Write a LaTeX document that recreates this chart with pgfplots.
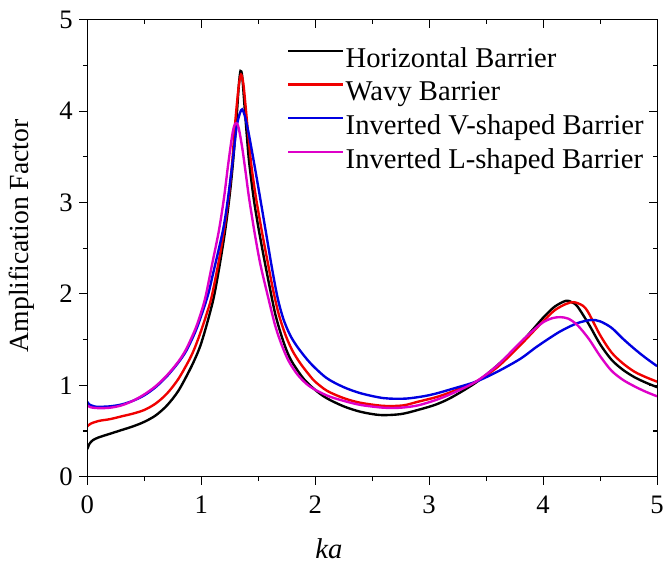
\documentclass[border=0pt]{standalone}
\usepackage{pgfplots}
\pgfplotsset{compat=1.18}
\usepackage{fontspec}
\setmainfont{Liberation Serif}
\definecolor{mag}{RGB}{222,0,200}
\definecolor{blu}{RGB}{0,0,225}
\definecolor{rd}{RGB}{240,0,0}

\pgfplotstableread{
x y
0 0.30
0.02 0.36
0.05 0.40
0.1 0.43
0.2 0.47
0.3 0.51
0.4 0.55
0.5 0.60
0.6 0.67
0.7 0.78
0.8 0.94
0.9 1.17
0.96 1.33
1.0 1.46
1.05 1.67
1.11 1.96
1.16 2.30
1.21 2.69
1.25 3.08
1.28 3.45
1.31 3.92
1.33 4.28
1.345 4.44
1.36 4.38
1.38 4.06
1.40 3.74
1.42 3.45
1.46 3.05
1.50 2.74
1.55 2.40
1.60 2.08
1.65 1.78
1.70 1.56
1.75 1.38
1.8 1.25
1.9 1.07
2.0 0.95
2.1 0.86
2.25 0.77
2.4 0.71
2.57 0.675
2.75 0.685
2.9 0.73
3.06 0.79
3.2 0.87
3.41 1.03
3.6 1.22
3.8 1.46
3.93 1.64
4.0 1.74
4.1 1.86
4.2 1.925
4.25 1.91
4.3 1.865
4.4 1.67
4.5 1.45
4.6 1.28
4.7 1.17
4.8 1.09
4.9 1.03
5.0 0.98
}\horiz

\pgfplotstableread{
x y
0 0.55
0.03 0.58
0.1 0.61
0.2 0.63
0.3 0.66
0.4 0.69
0.5 0.73
0.6 0.80
0.7 0.91
0.8 1.07
0.9 1.29
0.95 1.43
1.0 1.60
1.05 1.79
1.09 1.96
1.15 2.33
1.20 2.69
1.24 3.05
1.27 3.41
1.30 3.90
1.33 4.28
1.35 4.40
1.37 4.30
1.39 4.05
1.41 3.78
1.44 3.41
1.48 3.06
1.53 2.70
1.58 2.37
1.63 2.05
1.68 1.78
1.74 1.55
1.80 1.38
1.87 1.24
1.95 1.11
2.0 1.04
2.104 0.94
2.25 0.86
2.394 0.81
2.6 0.775
2.77 0.78
2.9 0.82
3.06 0.87
3.2 0.93
3.41 1.04
3.6 1.20
3.8 1.44
3.93 1.61
4.0 1.70
4.1 1.82
4.2 1.89
4.27 1.91
4.35 1.87
4.4 1.79
4.5 1.55
4.6 1.36
4.7 1.24
4.8 1.15
4.9 1.09
5.0 1.04
}\wavy

\pgfplotstableread{
x y
0 0.82
0.02 0.79
0.06 0.77
0.1 0.765
0.2 0.77
0.3 0.79
0.4 0.83
0.5 0.89
0.6 0.98
0.7 1.10
0.8 1.25
0.87 1.38
0.95 1.59
1.0 1.76
1.06 1.99
1.1 2.20
1.19 2.69
1.23 3.00
1.272 3.41
1.31 3.82
1.34 3.98
1.36 4.02
1.38 3.96
1.41 3.80
1.44 3.60
1.48 3.32
1.52 3.03
1.57 2.66
1.62 2.29
1.67 1.96
1.72 1.73
1.78 1.55
1.85 1.41
1.96 1.24
2.1 1.08
2.25 0.98
2.394 0.915
2.55 0.87
2.65 0.855
2.8 0.855
2.95 0.88
3.06 0.91
3.2 0.96
3.41 1.04
3.6 1.15
3.8 1.29
3.93 1.41
4.0 1.47
4.15 1.59
4.3 1.68
4.42 1.715
4.5 1.70
4.6 1.63
4.7 1.51
4.8 1.40
4.9 1.30
5.0 1.21
}\invv

\pgfplotstableread{
x y
0 0.78
0.03 0.76
0.1 0.75
0.2 0.755
0.3 0.78
0.4 0.83
0.5 0.90
0.6 0.99
0.7 1.11
0.8 1.26
0.87 1.40
0.95 1.62
1.0 1.80
1.04 1.98
1.1 2.35
1.155 2.69
1.2 3.05
1.235 3.40
1.27 3.72
1.29 3.84
1.31 3.87
1.33 3.81
1.36 3.60
1.39 3.33
1.42 3.05
1.47 2.66
1.52 2.32
1.59 1.95
1.65 1.65
1.71 1.43
1.77 1.26
1.85 1.11
1.95 0.99
2.1 0.89
2.25 0.83
2.4 0.785
2.6 0.755
2.75 0.755
2.9 0.78
3.06 0.84
3.2 0.91
3.41 1.04
3.6 1.22
3.8 1.47
3.93 1.62
4.0 1.69
4.08 1.735
4.15 1.746
4.22 1.73
4.3 1.66
4.4 1.51
4.5 1.32
4.6 1.16
4.7 1.06
4.8 0.99
4.9 0.93
5.0 0.88
}\invl

\pgfplotsset{
  frame/.style={scale only axis,width=575bp,height=461bp,
    xmin=0,xmax=5,ymin=0,ymax=5,
    xtick={0,1,...,5},ytick={0,1,...,5},
    minor x tick num=1,minor y tick num=1,
    axis line style={line width=1.2bp},
    every tick/.style={black,line width=1.1bp},
    major tick length=8bp,minor tick length=4.5bp},
  crv/.style={line width=2.4bp,smooth,tension=0.5},
}

\begin{document}
\begin{tikzpicture}
\begin{axis}[frame,name=ax,
  xtick pos=bottom,ytick pos=left,tick align=outside,
  /pgf/number format/assume math mode=true,
  tick label style={font=\fontsize{27}{30}\selectfont},
  xticklabel style={yshift=-8bp},
  yticklabel style={xshift=-3bp},
  xlabel={\textit{ka}},
  xlabel style={font=\fontsize{29}{32}\selectfont,at={(axis description cs:0.424,0)},anchor=base,yshift=-83bp},
  ylabel={Amplification Factor},
  ylabel style={font=\fontsize{28}{32}\selectfont,at={(axis description cs:0,0.527)},anchor=center,yshift=66bp},
  legend style={at={(axis cs:1.75,4.745)},anchor=north west,draw=none,fill=none,inner sep=0pt,
    font=\fontsize{29}{32}\selectfont,row sep=1bp,
    nodes={inner sep=2bp,text height=22bp,text depth=7bp}},
  legend cell align=left,
  legend image code/.code={\draw[#1,line width=2.4bp] (0bp,9bp) -- (55bp,9bp);},
]
\addplot[crv,black] table {\horiz};
\addlegendentry{Horizontal Barrier}
\addplot[crv,rd] table {\wavy};
\addlegendentry{Wavy Barrier}
\addplot[crv,blu] table {\invv};
\addlegendentry{Inverted V-shaped Barrier}
\addplot[crv,mag] table {\invl};
\addlegendentry{Inverted L-shaped Barrier}
\end{axis}
\begin{axis}[frame,xtick pos=top,ytick pos=right,tick align=inside,
  xticklabels={},yticklabels={}]
\end{axis}
\pgfresetboundingbox
\path ([xshift=-88bp,yshift=-90bp]ax.south west) rectangle ([xshift=10bp,yshift=20bp]ax.north east);
\end{tikzpicture}
\end{document}
